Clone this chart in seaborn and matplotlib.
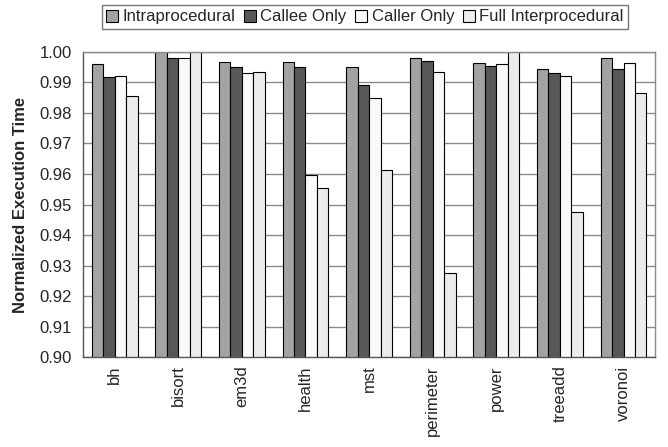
import numpy as np
import pandas as pd
import matplotlib
matplotlib.use('Agg')
import matplotlib.pyplot as plt
import seaborn as sns

# ----------------------------------------------------------------------
# Data
# ----------------------------------------------------------------------
benchmarks = ['bh', 'bisort', 'em3d', 'health', 'mst',
              'perimeter', 'power', 'treeadd', 'voronoi']
configs = ['Intraprocedural', 'Callee Only', 'Caller Only', 'Full Interprocedural']

intra  = [0.9960, 1.0010, 0.9967, 0.9967, 0.9952, 0.9979, 0.9965, 0.9944, 0.9979]
callee = [0.9917, 0.9979, 0.9952, 0.9949, 0.9891, 0.9971, 0.9955, 0.9932, 0.9943]
caller = [0.9921, 0.9981, 0.9931, 0.9598, 0.9849, 0.9933, 0.9961, 0.9921, 0.9963]
full   = [0.9854, 1.0010, 0.9934, 0.9553, 0.9612, 0.9275, 1.0010, 0.9476, 0.9864]

y_ticks = [0.90, 0.91, 0.92, 0.93, 0.94, 0.95, 0.96, 0.97, 0.98, 0.99, 1.00]
colors = ['#a3a3a3', '#585858', '#f9f9f9', '#ebebeb']

rows = []
for cfg, vals in zip(configs, [intra, callee, caller, full]):
    for b, v in zip(benchmarks, vals):
        rows.append({'benchmark': b, 'config': cfg, 'time': v})
df = pd.DataFrame(rows)

# ----------------------------------------------------------------------
# Style
# ----------------------------------------------------------------------
sns.set_style('white')
plt.rcParams['font.family'] = ['Liberation Sans', 'DejaVu Sans']
plt.rcParams['font.size'] = 12

fig = plt.figure(figsize=(6.68, 4.47), dpi=100)
ax = fig.add_axes([0.124, 0.201, 0.857, 0.683])

sns.barplot(data=df, x='benchmark', y='time', hue='config',
            hue_order=configs, order=benchmarks, palette=colors,
            edgecolor='black', linewidth=0.8, width=0.72, gap=0,
            ax=ax)

ax.set_ylim(0.90, 1.00)
ax.set_xlim(-0.5, len(benchmarks) - 0.5)
ax.set_yticks(y_ticks)
ax.set_yticklabels([f'{t:.2f}' for t in y_ticks], fontsize=12)
ax.set_xticks(range(len(benchmarks)))
ax.set_xticklabels(benchmarks, rotation=90, fontsize=12)

# category separators as tick marks (Excel style)
ax.set_xticks(np.arange(-0.5, len(benchmarks), 1.0), minor=True)
ax.tick_params(axis='x', which='major', length=0, pad=6)
ax.tick_params(axis='x', which='minor', length=5, direction='out',
               color='#555555', width=1)
ax.tick_params(axis='y', length=5, direction='out', color='#555555',
               width=1, pad=3)

ax.yaxis.grid(True, color='#8a8a8a', linewidth=1)
ax.set_axisbelow(True)

for side in ['top', 'right']:
    ax.spines[side].set_color('#8a8a8a')
    ax.spines[side].set_linewidth(1)
for side in ['left', 'bottom']:
    ax.spines[side].set_color('#555555')
    ax.spines[side].set_linewidth(1)

ax.set_xlabel('')
ax.set_ylabel('Normalized Execution Time', fontsize=12, fontweight='bold',
              labelpad=8)

handles, labels = ax.get_legend_handles_labels()
ax.get_legend().remove()
leg = fig.legend(handles, labels, loc='center', bbox_to_anchor=(0.546, 0.962),
                 ncol=4, frameon=True, fancybox=False, edgecolor='#555555',
                 handlelength=0.75, handleheight=0.75, handletextpad=0.25,
                 columnspacing=0.5, borderpad=0.25, fontsize=12)
leg.get_frame().set_linewidth(1)

fig.savefig('out.png', dpi=100)
